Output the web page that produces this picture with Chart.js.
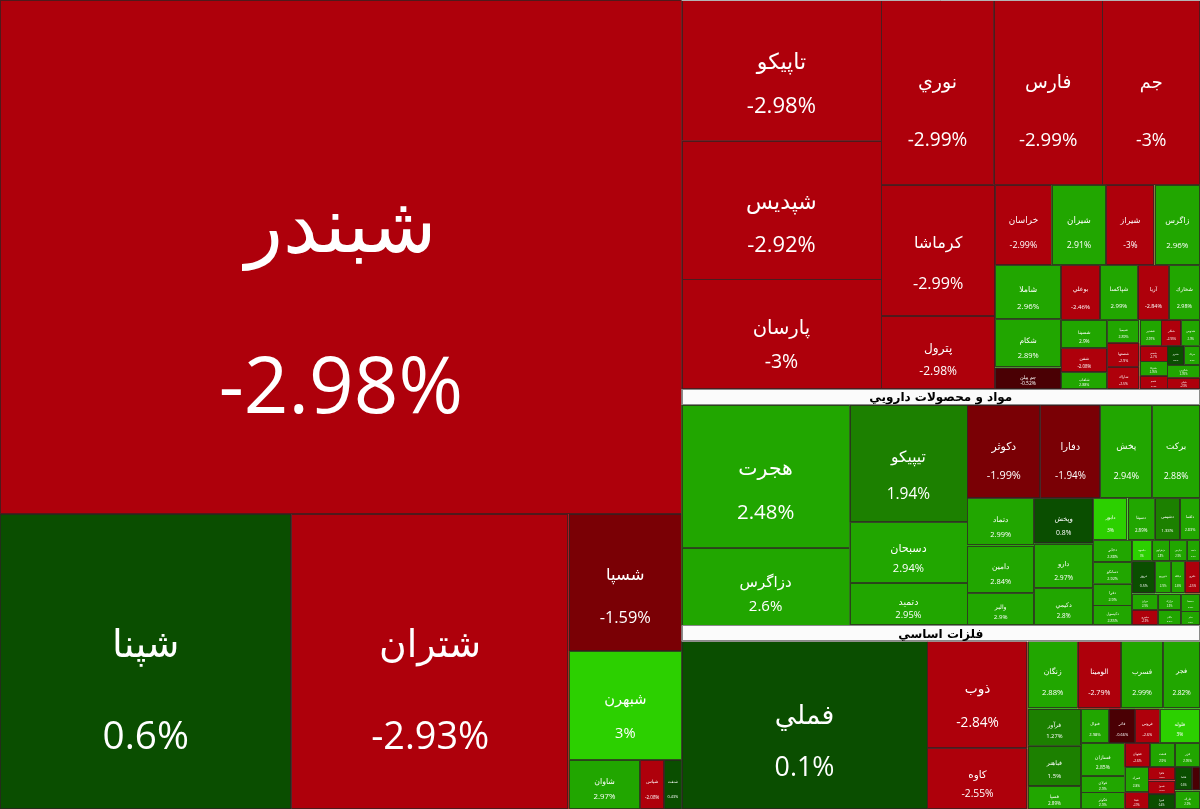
<!DOCTYPE html>
<html lang="fa">
<head>
<meta charset="UTF-8">
<title>نقشه بازار</title>
<script src="https://cdn.jsdelivr.net/npm/chart.js"></script>
<style>
    html, body { margin: 0; padding: 0; background: #fff; }
    #wrap { width: 1200px; height: 809px; }
</style>
</head>
<body>
<div id="wrap"><canvas id="marketMap" width="1200" height="809"></canvas></div>
<script>
// sector titles; the headers of the first two lie outside the visible frame
const sectorTitles = ['فرآورده هاي نفتي', 'محصولات شيميايي', 'مواد و محصولات دارويي', 'فلزات اساسي'];
const sectorHeaderShown = [false, false, true, true];

// refinery
const refinerySymbols = ['شبندر', 'شپنا', 'شتران', 'شسپا', 'شبهرن', 'شاوان', 'شپاس', 'شنفت'];
const refineryChanges = [-2.98, 0.6, -2.93, -1.59, 3, 2.97, -2.08, 0.43];
const refineryValues  = [351062, 86140, 82010, 15481, 12317, 3500, 1176, 861];

// chemicals
const chemSymbols = ['تاپيكو', 'شپديس', 'پارسان', 'نوري', 'فارس', 'جم', 'کرماشا', 'پترول',
    'خراسان', 'شيران', 'شيراز', 'زاگرس', 'شاملا', 'شکام', 'جم پيلن', 'بوعلي', 'شپاكسا', 'آريا', 'شخارك',
    'شسينا', 'شفن', 'شلعاب', 'شيميا', 'شصفها', 'شاراك', 'شغدير', 'شکلر', 'شدوص', 'شسم', 'شتوكا',
    'شجم', 'شنيرو', 'شزنگ', 'شكربن', 'شپلي'];
const chemChanges = [-2.98, -2.92, -3, -2.99, -2.99, -3, -2.99, -2.98,
    -2.99, 2.91, -3, 2.96, 2.96, 2.89, -0.52, -2.46, 2.99, -2.84, 2.98,
    2.9, -2.08, 2.88, 2.89, -2.9, -2.5, 2.97, -2.95, 2.9, -2.7, 2.95,
    -2.9, 0.5, 2.9, 2.99, -2.9];
const chemValues = [28059, 27661, 21890, 20832, 20088, 18042, 14934, 8322,
    4536, 4374, 3888, 3645, 3575, 3185, 1400, 2128, 2072, 1700, 1700,
    1317, 1107, 777, 740, 777, 713, 560, 520, 480, 430, 400,
    360, 330, 300, 420, 368];

// pharmaceuticals
const pharmaSymbols = ['هجرت', 'دزاگرس', 'تيپيكو', 'دسبحان', 'دتميد', 'دكوثر', 'دفارا', 'پخش', 'بركت',
    'دتماد', 'دامين', 'والبر', 'وپخش', 'دارو', 'دكيمي',
    'دابور', 'دسينا', 'دشيمي', 'دلقما', 'دجابر', 'دسانكو', 'دفرا', 'دكپسول', 'داسوه', 'دزهراوي',
    'دپارس', 'دعبيد', 'دروز', 'دتوزيع', 'دبالك', 'دفرو', 'ديران', 'دشيري', 'درازك', 'داتام', 'دسبحا', 'ددام'];
const pharmaChanges = [2.48, 2.6, 1.94, 2.94, 2.95, -1.99, -1.94, 2.94, 2.88,
    2.99, 2.84, 2.9, 0.8, 2.97, 2.8,
    3, 2.89, 1.33, 2.83, 2.88, 2.92, 2.9, 2.85, 3, 2.8,
    2.9, 2.9, 0.5, 2.9, 2.8, -2.5, 2.9, -2.9, 2.9, 2.9, 2.9, 2.9];
const pharmaValues = [24000, 13013, 13804, 7140, 4998, 6840, 5605, 4845, 4465,
    3174, 3174, 2139, 2684, 2623, 2200,
    1444, 1140, 1064, 840, 840, 840, 840, 782, 414, 368,
    368, 276, 748, 500, 450, 488, 420, 400, 380, 360, 330, 267];

// basic metals
const metalSymbols = ['فملي', 'ذوب', 'كاوه', 'زنگان', 'الومينا', 'فسرب', 'فجر',
    'فرآور', 'فباهنر', 'فسپا', 'فنوال', 'فاذر', 'فروس', 'فلوله', 'فسازان', 'فولاي', 'فكوثر', 'فجهان',
    'فنفت', 'فزر', 'فمراد', 'فپنتا', 'فافزا', 'فسوژ', 'فبيرا', 'فكما', 'فالوم', 'فاراك'];
const metalChanges = [0.1, -2.84, -2.55, 2.88, -2.79, 2.99, 2.82,
    1.27, 1.5, 2.89, 2.98, -0.66, -2.6, 3, 2.85, 2.9, 2.9, -2.6,
    2.9, 2.95, 2.8, -2.9, -2.8, -2.9, 0.4, 0.6, -0.5, 2.9];
const metalValues = [41160, 10735, 6102, 3358, 2920, 2847, 2482,
    1961, 2147, 1221, 962, 888, 851, 1378, 1431, 720, 720, 612,
    600, 600, 600, 390, 360, 360, 405, 405, 180, 461];

const sectors = [
    { symbols: refinerySymbols, changes: refineryChanges, values: refineryValues },
    { symbols: chemSymbols, changes: chemChanges, values: chemValues },
    { symbols: pharmaSymbols, changes: pharmaChanges, values: pharmaValues },
    { symbols: metalSymbols, changes: metalChanges, values: metalValues }
].map((s, i) => Object.assign(s, { title: sectorTitles[i], header: sectorHeaderShown[i] }));

const W = 1200, H = 809, HEADER_H = 16;
const RATIO = (1 + Math.sqrt(5)) / 2;

function cellColor(p) {
    if (p >= 3) return 'rgb(44,208,0)';
    if (p >= 2) return 'rgb(33,166,0)';
    if (p >= 1) return 'rgb(28,128,0)';
    if (p >= 0) return 'rgb(10,78,0)';
    if (p > -1) return 'rgb(74,0,4)';
    if (p > -2) return 'rgb(122,0,5)';
    return 'rgb(174,0,11)';
}

// squarified treemap (d3 style, golden ratio), rows go across when the box is not much wider than tall
function squarify(nodes, x0, y0, x1, y1) {
    let value = nodes.reduce((s, n) => s + n.value, 0);
    let i0 = 0;
    while (i0 < nodes.length) {
        const dx = x1 - x0, dy = y1 - y0;
        let i1 = i0;
        let sum = nodes[i1++].value, minV = sum, maxV = sum;
        const alpha = Math.max(dy / dx, dx / dy) / (value * RATIO);
        let beta = sum * sum * alpha;
        let minRatio = Math.max(maxV / beta, beta / minV);
        for (; i1 < nodes.length; i1++) {
            const v = nodes[i1].value;
            const s = sum + v;
            const mn = Math.min(minV, v), mx = Math.max(maxV, v);
            beta = s * s * alpha;
            const r = Math.max(mx / beta, beta / mn);
            if (r > minRatio) break;
            sum = s; minV = mn; maxV = mx; minRatio = r;
        }
        const row = nodes.slice(i0, i1);
        if (dx < dy * 1.2) {
            const h = dy * sum / value;
            let x = x0;
            row.forEach(nd => { const w = dx * nd.value / sum; nd.rect = [x, y0, x + w, y0 + h]; x += w; });
            y0 += h;
        } else {
            const w = dx * sum / value;
            let y = y0;
            row.forEach(nd => { const h = dy * nd.value / sum; nd.rect = [x0, y, x0 + w, y + h]; y += h; });
            x0 += w;
        }
        value -= sum;
        i0 = i1;
    }
}

function buildLayout() {
    const totals = sectors.map(s => s.values.reduce((a, b) => a + b, 0));
    const rest = sectors.slice(1);
    const restTotal = totals.slice(1).reduce((a, b) => a + b, 0);
    const headers = rest.filter(s => s.header).length;
    const rightW = restTotal / (H - headers * HEADER_H);
    const leftW = W - rightW;
    sectors[0].box = [0, 0, leftW, H];
    sectors[0].headerH = 0;
    let y = 0;
    rest.forEach((s, i) => {
        const hh = s.header ? HEADER_H : 0;
        const h = hh + totals[i + 1] / rightW;
        s.box = [leftW, y, W, y + h];
        s.headerH = hh;
        y += h;
    });
    sectors.forEach(s => {
        s.cells = s.values.map((v, i) => ({ value: v, symbol: s.symbols[i], change: s.changes[i] }));
        const b = s.box;
        squarify(s.cells, b[0], b[1] + s.headerH, b[2], b[3]);
    });
}
buildLayout();

const treemapPlugin = {
    id: 'treemapCells',
    afterDraw(chart) {
        const ctx = chart.ctx;
        const xs = chart.scales.x, ys = chart.scales.y;
        const px = v => xs.getPixelForValue(v);
        const py = v => ys.getPixelForValue(v);
        ctx.save();
        sectors.forEach(s => {
            s.cells.forEach(c => {
                const x0 = px(c.rect[0]), x1 = px(c.rect[2]);
                const y0 = py(c.rect[1]), y1 = py(c.rect[3]);
                const w = x1 - x0, h = y1 - y0;
                ctx.fillStyle = cellColor(c.change);
                ctx.fillRect(x0, y0, w, h);
                ctx.strokeStyle = 'rgba(45,35,35,0.75)';
                ctx.lineWidth = 1;
                ctx.strokeRect(Math.round(x0) + 0.5, Math.round(y0) + 0.5, Math.round(w) - 1, Math.round(h) - 1);
                if (w < 12 || h < 10) return;
                let fs = 0.132 * Math.sqrt(w * h);
                const pct = c.change + '%';
                ctx.font = fs + 'px "Open Sans", "DejaVu Sans"';
                const tw = Math.max(ctx.measureText(pct).width, ctx.measureText(c.symbol).width);
                if (tw > w * 0.88) fs = fs * w * 0.88 / tw;
                if (fs > h * 0.3) fs = h * 0.3;
                ctx.save();
                ctx.beginPath();
                ctx.rect(x0, y0, w, h);
                ctx.clip();
                ctx.fillStyle = '#fff';
                ctx.textAlign = 'center';
                ctx.textBaseline = 'middle';
                ctx.font = fs + 'px "DejaVu Sans"';
                ctx.direction = 'rtl';
                ctx.fillText(c.symbol, x0 + w / 2, y0 + h * 0.45);
                ctx.font = fs + 'px "Open Sans", "DejaVu Sans"';
                ctx.direction = 'ltr';
                ctx.fillText(pct, x0 + w / 2, y0 + h * 0.76);
                ctx.restore();
            });
            if (s.headerH) {
                const x0 = px(s.box[0]), x1 = px(s.box[2]);
                const y0 = py(s.box[1]), y1 = py(s.box[1] + s.headerH);
                ctx.fillStyle = '#fbfbfb';
                ctx.fillRect(x0, y0, x1 - x0, y1 - y0);
                ctx.strokeStyle = '#8a8a8a';
                ctx.strokeRect(Math.round(x0) + 0.5, Math.round(y0) + 0.5, Math.round(x1 - x0) - 1, Math.round(y1 - y0) - 1);
                ctx.fillStyle = '#000';
                ctx.font = 'bold 12px "DejaVu Sans"';
                ctx.textAlign = 'center';
                ctx.textBaseline = 'middle';
                ctx.direction = 'rtl';
                ctx.fillText(s.title, (x0 + x1) / 2, (y0 + y1) / 2 + 1);
            }
        });
        // thin light edge left at the top of the right-hand column
        ctx.strokeStyle = '#b4b4b4';
        ctx.beginPath();
        ctx.moveTo(px(sectors[1].box[0]), py(0) + 0.5);
        ctx.lineTo(px(W), py(0) + 0.5);
        ctx.stroke();
        ctx.restore();
    }
};

new Chart(document.getElementById('marketMap'), {
    type: 'scatter',
    data: { datasets: [{ data: [] }] },
    options: {
        responsive: false,
        animation: false,
        devicePixelRatio: 1,
        layout: { padding: 0 },
        scales: {
            x: { type: 'linear', min: 0, max: W, display: false },
            y: { type: 'linear', min: 0, max: H, reverse: true, display: false }
        },
        plugins: { legend: { display: false }, tooltip: { enabled: false } }
    },
    plugins: [treemapPlugin]
});
</script>
</body>
</html>
